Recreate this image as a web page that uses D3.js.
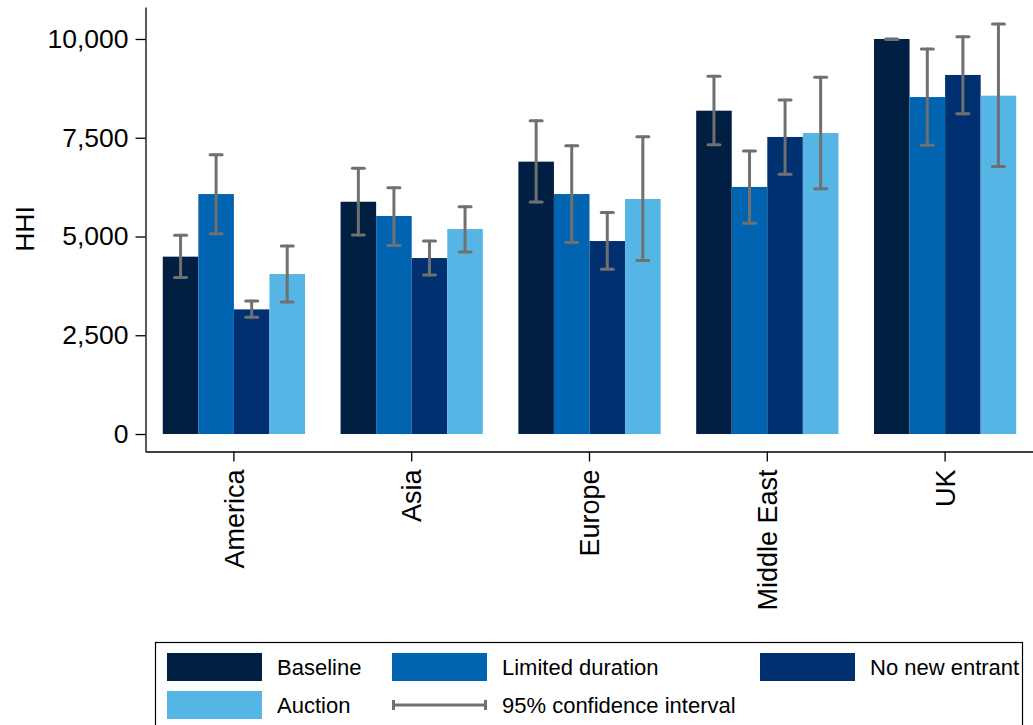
<!DOCTYPE html>
<html>
<head>
<meta charset="utf-8">
<script src="https://cdn.jsdelivr.net/npm/d3@7/dist/d3.min.js"></script>
<style>
  html, body { margin: 0; padding: 0; background: #fff; }
  svg { display: block; font-family: "Liberation Sans", Arial, Helvetica, sans-serif; }
</style>
</head>
<body>
<svg id="chart" width="1033" height="725"></svg>
<script>
// Regions on the x axis
const categories = ["America", "Asia", "Europe", "Middle East", "UK"];
// Scenarios, one bar each per region
const seriesNames = ["Baseline", "Limited duration", "No new entrant", "Auction"];
const seriesColors = ["#001F42", "#0064B0", "#00306F", "#55B6E6"];

// HHI point estimates and 95% confidence bounds
const baseline      = [4490, 5880, 6895, 8185, 10000];
const baselineLow   = [3965, 5040, 5875, 7325, 9990];
const baselineHigh  = [5030, 6725, 7930, 9055, 10000];

const limited       = [6075, 5520, 6075, 6255, 8530];
const limitedLow    = [5070, 4775, 4850, 5335, 7310];
const limitedHigh   = [7070, 6235, 7300, 7165, 9745];

const noNewEntrant     = [3155, 4455, 4885, 7520, 9090];
const noNewEntrantLow  = [2955, 4025, 4170, 6575, 8110];
const noNewEntrantHigh = [3365, 4885, 5605, 8455, 10060];

const auction       = [4050, 5190, 5950, 7620, 8565];
const auctionLow    = [3340, 4610, 4390, 6210, 6770];
const auctionHigh   = [4760, 5755, 7525, 9030, 10380];

const yTicks = [0, 2500, 5000, 7500, 10000];
const yLabel = "HHI";
const ciLabel = "95% confidence interval";

const values = [baseline, limited, noNewEntrant, auction];
const lows   = [baselineLow, limitedLow, noNewEntrantLow, auctionLow];
const highs  = [baselineHigh, limitedHigh, noNewEntrantHigh, auctionHigh];

const rows = [];
categories.forEach((c, i) => {
  seriesNames.forEach((s, j) => {
    rows.push({ cat: c, series: s, v: values[j][i], lo: lows[j][i], hi: highs[j][i], color: seriesColors[j] });
  });
});

const svg = d3.select("#chart");
const ciColor = "#707070";

const x = d3.scaleBand().domain(categories).range([145, 1034]).paddingInner(0.2).paddingOuter(0.1);
const xs = d3.scaleBand().domain(seriesNames).range([0, x.bandwidth()]).padding(0);
const y = d3.scaleLinear().domain([-430, 10810]).range([451, 7]);

// Bars
const g = svg.append("g");
g.selectAll("rect.bar")
  .data(rows)
  .join("rect")
  .attr("class", "bar")
  .attr("x", d => x(d.cat) + xs(d.series))
  .attr("width", xs.bandwidth())
  .attr("y", d => y(d.v))
  .attr("height", d => y(0) - y(d.v))
  .attr("fill", d => d.color);

// Confidence interval whiskers
const capHalf = 6;
const ci = g.selectAll("g.ci").data(rows).join("g").attr("class", "ci")
  .attr("transform", d => `translate(${x(d.cat) + xs(d.series) + xs.bandwidth() / 2},0)`)
  .attr("stroke", ciColor).attr("stroke-width", 3).attr("stroke-linecap", "round");
ci.append("line").attr("x1", 0).attr("x2", 0).attr("y1", d => y(d.lo)).attr("y2", d => y(d.hi));
ci.append("line").attr("x1", -capHalf).attr("x2", capHalf).attr("y1", d => y(d.lo)).attr("y2", d => y(d.lo));
ci.append("line").attr("x1", -capHalf).attr("x2", capHalf).attr("y1", d => y(d.hi)).attr("y2", d => y(d.hi));

// Y axis
const yAxis = svg.append("g")
  .attr("transform", "translate(145.5,0)")
  .call(d3.axisLeft(y).tickValues(yTicks).tickFormat(d3.format(",")).tickSize(10).tickSizeOuter(0).tickPadding(7));
yAxis.selectAll("text").attr("font-size", 26.5).attr("fill", "#000").attr("font-family", "Liberation Sans, Arial, sans-serif");
yAxis.selectAll("path, line").attr("stroke", "#000").attr("stroke-width", 1.3);

svg.append("text")
  .attr("transform", `translate(34,${(7 + 451) / 2}) rotate(-90)`)
  .attr("text-anchor", "middle")
  .attr("font-size", 26.5)
  .attr("fill", "#000")
  .text(yLabel);

// X axis
const xAxis = svg.append("g")
  .attr("transform", "translate(0,451.5)")
  .call(d3.axisBottom(x).tickSize(10).tickSizeOuter(0));
xAxis.selectAll("path, line").attr("stroke", "#000").attr("stroke-width", 1.3);
xAxis.selectAll("text")
  .attr("font-size", 27)
  .attr("fill", "#000")
  .attr("font-family", "Liberation Sans, Arial, sans-serif")
  .attr("transform", "rotate(-90)")
  .attr("text-anchor", "end")
  .attr("x", -18)
  .attr("y", 0)
  .attr("dy", "0.36em");

// Legend
const legend = svg.append("g");
legend.append("rect")
  .attr("x", 155.5).attr("y", 642.5).attr("width", 867).attr("height", 120)
  .attr("fill", "#fff").attr("stroke", "#000").attr("stroke-width", 1.2);

const colX = [167, 392, 760];
const rowY = [667, 705];
const swW = 95, swH = 28;
const legendItems = seriesNames.map((s, j) => ({ label: s, color: seriesColors[j], type: "bar" }));
legendItems.push({ label: ciLabel, type: "ci" });

legendItems.forEach((item, k) => {
  const cx = colX[k % 3];
  const cy = rowY[Math.floor(k / 3)];
  if (item.type === "bar") {
    legend.append("rect").attr("x", cx).attr("y", cy - swH / 2).attr("width", swW).attr("height", swH).attr("fill", item.color);
  } else {
    const lg = legend.append("g").attr("stroke", ciColor).attr("stroke-width", 3);
    lg.append("line").attr("x1", cx).attr("x2", cx + swW).attr("y1", cy).attr("y2", cy);
    lg.append("line").attr("x1", cx + 1.5).attr("x2", cx + 1.5).attr("y1", cy - 5).attr("y2", cy + 5);
    lg.append("line").attr("x1", cx + swW - 1.5).attr("x2", cx + swW - 1.5).attr("y1", cy - 5).attr("y2", cy + 5);
  }
  legend.append("text")
    .attr("x", cx + swW + 15)
    .attr("y", cy)
    .attr("dy", "0.36em")
    .attr("font-size", 22)
    .attr("fill", "#000")
    .text(item.label);
});
</script>
</body>
</html>
